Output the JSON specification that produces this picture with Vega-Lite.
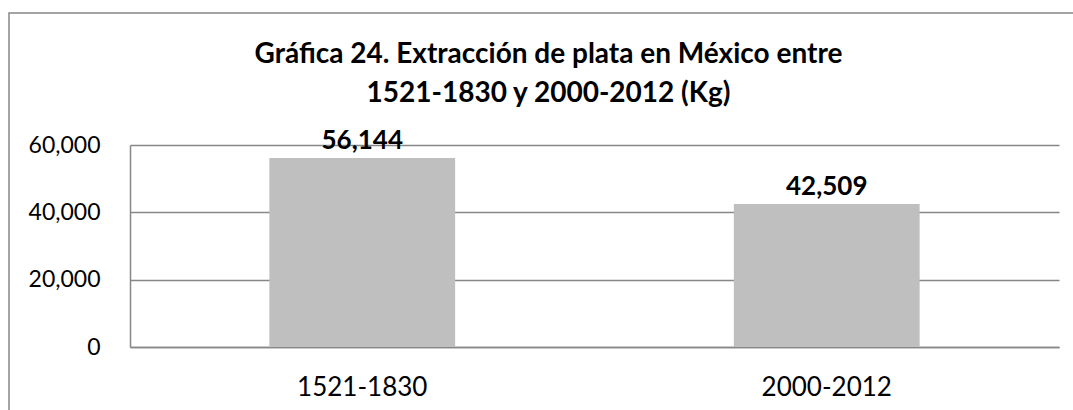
{
  "$schema": "https://vega.github.io/schema/vega-lite/v6.json",
  "width": 1067,
  "height": 400,
  "autosize": {"type": "none"},
  "padding": {"left": 9, "top": 13, "right": -3, "bottom": -3},
  "background": "white",
  "title": {
    "text": ["Gráfica 24. Extracción de plata en México entre", "1521-1830 y 2000-2012 (Kg)"],
    "font": "Lato",
    "fontSize": 28,
    "fontWeight": "bold",
    "color": "black",
    "lineHeight": 39,
    "anchor": "middle",
    "frame": "group",
    "baseline": "alphabetic",
    "offset": -117,
    "dx": 6
  },
  "data": {
    "values": [
      {"periodo": "1521-1830", "kg": 56144},
      {"periodo": "2000-2012", "kg": 42509}
    ]
  },
  "encoding": {
    "x": {
      "field": "periodo",
      "type": "nominal",
      "sort": null,
      "title": null,
      "scale": {"range": [121, 1050], "paddingInner": 0.6, "paddingOuter": 0.3},
      "axis": {
        "offset": -66,
        "ticks": false,
        "tickSize": 0,
        "grid": false,
        "labelAngle": 0,
        "labelFont": "Lato",
        "labelFontSize": 26,
        "labelColor": "black",
        "labelBaseline": "alphabetic",
        "labelPadding": 48,
        "domainColor": "#878787",
        "domainWidth": 1.5
      }
    },
    "y": {
      "field": "kg",
      "type": "quantitative",
      "title": null,
      "scale": {"domain": [0, 60000], "range": [334, 132], "nice": false},
      "axis": {
        "offset": -121,
        "values": [0, 20000, 40000, 60000],
        "format": ",d",
        "ticks": false,
        "tickSize": 0,
        "grid": true,
        "gridColor": "#878787",
        "gridWidth": 1.5,
        "labelFont": "Lato",
        "labelFontSize": 23,
        "labelColor": "black",
        "labelPadding": 30,
        "domainColor": "#878787",
        "domainWidth": 1.5
      }
    }
  },
  "layer": [
    {"mark": {"type": "bar", "color": "#BFBFBF"}},
    {
      "mark": {"type": "text", "font": "Lato", "fontSize": 26, "fontWeight": "bold", "color": "black", "baseline": "alphabetic", "dy": -9},
      "encoding": {"text": {"field": "kg", "type": "quantitative", "format": ",d"}}
    }
  ],
  "config": {
    "font": "Lato",
    "view": {"stroke": "#878787", "strokeWidth": 1.5}
  }
}
